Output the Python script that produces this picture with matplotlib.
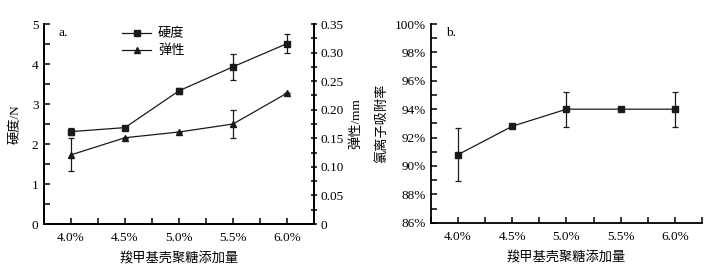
import matplotlib
matplotlib.use("Agg")
import matplotlib.pyplot as plt
from matplotlib.lines import Line2D
from matplotlib.ticker import MultipleLocator, FuncFormatter

plt.rcParams['font.family'] = ['Liberation Serif', 'Noto Sans CJK SC']
plt.rcParams['font.size'] = 9.5
plt.rcParams['axes.linewidth'] = 1.3

# CMC addition level (%)
x = [4.0, 4.5, 5.0, 5.5, 6.0]
xlabels = ["4.0%", "4.5%", "5.0%", "5.5%", "6.0%"]

# panel a
hardness = [2.31, 2.41, 3.33, 3.93, 4.51]
hardness_err = [0.09, 0.05, 0.08, 0.32, 0.23]
elasticity = [0.121, 0.151, 0.161, 0.175, 0.229]
elasticity_err = [0.029, 0.0, 0.0, 0.024, 0.0]

# panel b
adsorption = [90.8, 92.8, 94.0, 94.0, 94.0]
adsorption_err = [1.85, 0.0, 1.23, 0.0, 1.23]

LINE = "#1a1a1a"

fig = plt.figure(figsize=(7.12, 2.71), dpi=100)
ax1 = fig.add_axes([0.0618, 0.1734, 0.3792, 0.738])
ax2 = ax1.twinx()
axb = fig.add_axes([0.6053, 0.178, 0.3806, 0.7334])

eb = dict(color=LINE, lw=0.9, capsize=2.5, elinewidth=0.9, capthick=0.9)

ax1.errorbar(x, hardness, yerr=hardness_err, marker="s", ms=5, **eb)
ax2.errorbar(x, elasticity, yerr=elasticity_err, marker="^", ms=5, **eb)

ax1.set_xlim(3.75, 6.25)
ax1.set_ylim(0, 5)
ax2.set_ylim(0, 0.35)
ax1.set_xticks(x, xlabels)
ax1.xaxis.set_minor_locator(MultipleLocator(0.25))
ax1.yaxis.set_major_locator(MultipleLocator(1))
ax1.yaxis.set_minor_locator(MultipleLocator(0.5))
ax2.yaxis.set_major_locator(MultipleLocator(0.05))
ax2.yaxis.set_minor_locator(MultipleLocator(0.025))
ax2.yaxis.set_major_formatter(FuncFormatter(lambda v, p: "0" if v == 0 else "%.2f" % v))

for a in (ax1, ax2):
    a.spines["top"].set_visible(False)
ax1.tick_params(which="both", direction="in", length=4, width=1.1, pad=4)
ax1.tick_params(axis="x", pad=6)
ax2.tick_params(which="both", direction="inout", length=5, width=1.1, pad=2)

ax1.set_ylabel("硬度/N", labelpad=7)
ax2.set_ylabel("弹性/mm", labelpad=4)
ax1.set_xlabel("羧甲基壳聚糖添加量", labelpad=6)
ax1.text(0.055, 0.985, "a.", transform=ax1.transAxes, va="top", ha="left")
handles = [Line2D([], [], color=LINE, lw=0.9, marker="s", ms=5),
           Line2D([], [], color=LINE, lw=0.9, marker="^", ms=5)]
ax1.legend(handles, ["硬度", "弹性"], loc="upper left", bbox_to_anchor=(0.26, 1.02),
           frameon=False, handlelength=2.2, handletextpad=0.5, labelspacing=0.35,
           borderaxespad=0.2)

axb.errorbar(x, adsorption, yerr=adsorption_err, marker="s", ms=5, **eb)
axb.set_xlim(3.75, 6.25)
axb.set_ylim(86, 100)
axb.set_xticks(x, xlabels)
axb.xaxis.set_minor_locator(MultipleLocator(0.25))
axb.yaxis.set_major_locator(MultipleLocator(2))
axb.yaxis.set_minor_locator(MultipleLocator(1))
axb.yaxis.set_major_formatter(FuncFormatter(lambda v, p: "%d%%" % v))
axb.spines["top"].set_visible(False)
axb.spines["right"].set_visible(False)
axb.tick_params(which="both", direction="in", length=4, width=1.1, pad=4)
axb.tick_params(axis="x", pad=6)
axb.set_ylabel("氯离子吸附率", labelpad=4)
axb.set_xlabel("羧甲基壳聚糖添加量", labelpad=6)
axb.text(0.055, 0.985, "b.", transform=axb.transAxes, va="top", ha="left")

fig.savefig("out.png", dpi=100)
